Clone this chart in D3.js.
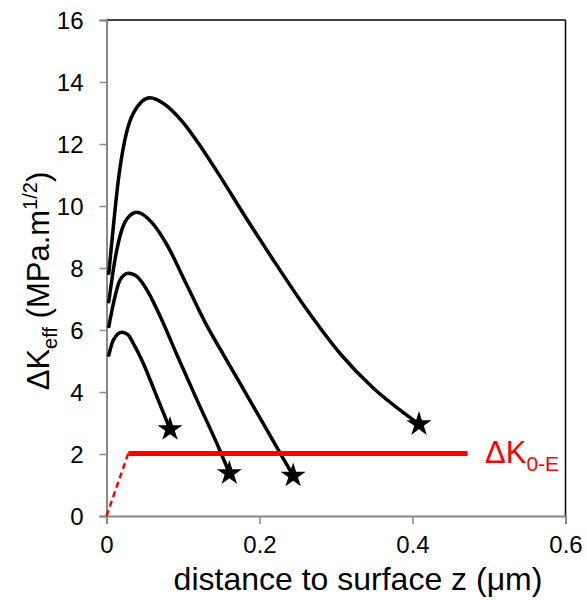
<!DOCTYPE html>
<html>
<head>
<meta charset="utf-8">
<script src="https://cdn.jsdelivr.net/npm/d3@7"></script>
<style>
  html, body { margin: 0; padding: 0; background: #fff; }
  svg { display: block; font-family: Arial, "Liberation Sans", sans-serif; }
</style>
</head>
<body>
<svg id="chart" width="587" height="600"></svg>
<script>
// ---- data ----
const xTicks = [0, 0.2, 0.4, 0.6];
const yTicks = [0, 2, 4, 6, 8, 10, 12, 14, 16];

const curve1Z = [0.003, 0.0089, 0.0155, 0.024, 0.035, 0.057, 0.075, 0.100, 0.125, 0.150, 0.179, 0.218, 0.262, 0.305, 0.349, 0.392, 0.4085];
const curve1K = [7.83, 9.33, 10.84, 12.13, 12.99, 13.49, 13.3, 12.7, 11.85, 10.9, 9.75, 8.26, 6.65, 5.25, 4.12, 3.26, 2.96];

const curve2Z = [0.003, 0.011, 0.020, 0.030, 0.040, 0.060, 0.079, 0.105, 0.131, 0.153, 0.190, 0.227, 0.244];
const curve2K = [6.91, 8.26, 9.23, 9.68, 9.80, 9.45, 8.75, 7.45, 6.15, 5.20, 3.62, 2.03, 1.30];

const curve3Z = [0.003, 0.011, 0.0176, 0.0285, 0.040, 0.055, 0.070, 0.092, 0.120, 0.148, 0.1606];
const curve3K = [6.11, 7.07, 7.61, 7.83, 7.72, 7.20, 6.45, 5.20, 3.65, 2.13, 1.38];

const curve4Z = [0.003, 0.009, 0.020, 0.028, 0.035, 0.048, 0.065, 0.083];
const curve4K = [5.19, 5.68, 5.93, 5.85, 5.57, 4.93, 3.90, 2.80];

const thresholdSolidZ = [0.0285, 0.472];
const thresholdSolidK = [2.02, 2.02];
const thresholdDashZ = [0, 0.0285];
const thresholdDashK = [0, 2.02];

// ---- layout ----
const W = 587, H = 600;
const margin = {left: 106.5, top: 20, right: 21.5, bottom: 84};
const iw = W - margin.left - margin.right;
const ih = H - margin.top - margin.bottom;

const svg = d3.select("#chart");
const g = svg.append("g").attr("transform", `translate(${margin.left},${margin.top})`);

const x = d3.scaleLinear().domain([0, 0.6]).range([0, iw]);
const y = d3.scaleLinear().domain([0, 16]).range([ih, 0]);

// frame (top & right black)
g.append("line").attr("x1", 0).attr("x2", iw).attr("y1", 0).attr("y2", 0)
  .attr("stroke", "#000").attr("stroke-width", 1.5);
g.append("line").attr("x1", iw).attr("x2", iw).attr("y1", 0).attr("y2", ih)
  .attr("stroke", "#000").attr("stroke-width", 1.5);

// axes
const xAxis = g.append("g").attr("transform", `translate(0,${ih})`)
  .call(d3.axisBottom(x).tickValues(xTicks).tickSize(8).tickPadding(12)
    .tickFormat(d => d === 0 ? "0" : d3.format(".1f")(d)));
const yAxis = g.append("g")
  .call(d3.axisLeft(y).tickValues(yTicks).tickSize(7).tickPadding(16).tickFormat(d3.format("d")));

[xAxis, yAxis].forEach(ax => {
  ax.select(".domain").attr("stroke", "#898989").attr("stroke-width", 2);
  ax.selectAll(".tick line").attr("stroke", "#898989").attr("stroke-width", 1.5);
  ax.selectAll(".tick text").attr("fill", "#000").style("font-size", "24px")
    .style("font-family", "Arial, 'Liberation Sans', sans-serif");
});
yAxis.selectAll(".tick text").attr("dy", "0.36em");

// curves
const line = d3.line().x(d => x(d[0])).y(d => y(d[1])).curve(d3.curveMonotoneX);
const curves = [
  d3.zip(curve1Z, curve1K),
  d3.zip(curve2Z, curve2K),
  d3.zip(curve3Z, curve3K),
  d3.zip(curve4Z, curve4K)
];
g.selectAll("path.curve").data(curves).enter().append("path")
  .attr("class", "curve")
  .attr("d", line)
  .attr("fill", "none").attr("stroke", "#000").attr("stroke-width", 3.5)
  .attr("stroke-linecap", "round");

// threshold
const straight = d3.line().x(d => x(d[0])).y(d => y(d[1]));
g.append("path").attr("d", straight(d3.zip(thresholdDashZ, thresholdDashK)))
  .attr("stroke", "#ff0000").attr("stroke-width", 2.5).attr("fill", "none")
  .attr("stroke-dasharray", "6,4");
g.append("path").attr("d", straight(d3.zip(thresholdSolidZ, thresholdSolidK)))
  .attr("stroke", "#ff0000").attr("stroke-width", 5).attr("fill", "none");

// stars at curve ends
const star = d3.symbol().type(d3.symbolStar).size(195);
g.selectAll("path.star").data(curves.map(c => c[c.length - 1])).enter().append("path")
  .attr("class", "star")
  .attr("d", star)
  .attr("transform", d => `translate(${x(d[0])},${y(d[1])})`)
  .attr("fill", "#000");

// threshold label
const lab = svg.append("text")
  .attr("x", 485).attr("y", 463)
  .attr("fill", "#ff0000").style("font-size", "31px");
lab.append("tspan").text("ΔK");
lab.append("tspan").attr("dy", 8).style("font-size", "21px").text("0-E");

// axis titles
svg.append("text")
  .attr("x", 358).attr("y", 590)
  .attr("text-anchor", "middle")
  .style("font-size", "32px")
  .attr("fill", "#000")
  .text("distance to surface z (μm)");

const yt = svg.append("text")
  .attr("transform", "translate(49,281) rotate(-90)")
  .attr("text-anchor", "middle")
  .style("font-size", "31px")
  .attr("fill", "#000");
yt.append("tspan").text("ΔK");
yt.append("tspan").attr("dy", 8).style("font-size", "20px").text("eff");
yt.append("tspan").attr("dy", -8).text(" (MPa.m");
yt.append("tspan").attr("dy", -12).style("font-size", "20px").text("1/2");
yt.append("tspan").attr("dy", 12).text(")");
</script>
</body>
</html>
